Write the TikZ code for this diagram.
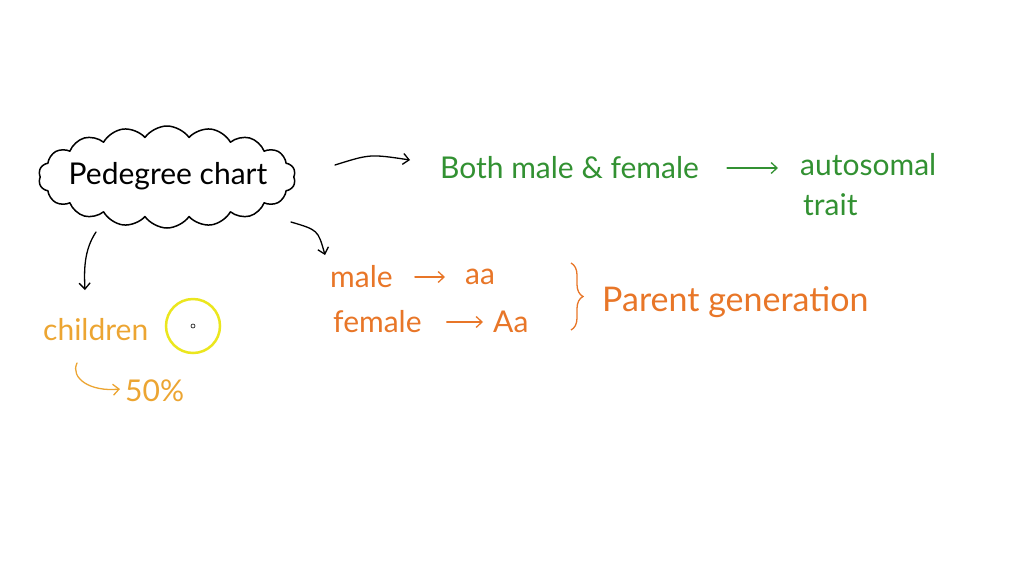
\documentclass[tikz,border=0pt]{standalone}
\usepackage{fontspec}
\setmainfont{Lato}
\usetikzlibrary{shapes.symbols,arrows.meta,decorations.pathreplacing}
\definecolor{grn}{RGB}{50,145,50}
\definecolor{org}{RGB}{232,118,40}
\definecolor{amb}{RGB}{236,165,50}
\definecolor{ylw}{RGB}{235,230,30}
\begin{document}
\begin{tikzpicture}[x=1pt,y=-1pt,
  hand/.style={font=\fontsize{30}{34}\selectfont, inner sep=0pt, anchor=west},
  arr/.style={-{Straight Barb[length=6pt,width=11pt]}, line width=1.3pt, line cap=round},
  ink/.style={line width=1.5pt, line cap=round, line join=round}]
\useasboundingbox (0,0) rectangle (1024,576);
% cloud
\node[cloud, draw, ink, cloud puffs=18, cloud puff arc=110, aspect=2.5,
      minimum width=257pt, minimum height=102pt, inner sep=0pt] (pc) at (167,177) {};
\node[font=\fontsize{30}{34}\selectfont, inner sep=0pt] (pct) at (168,176) {Pedegree chart};
% green part
\node[hand, text=grn] (both) at (440,168) {Both male \& female};
\node[hand, text=grn] (auto) at (800,165) {autosomal};
\node[hand, text=grn] (trait) at (803,205) {trait};
\draw[arr, grn, shorten <=28pt, shorten >=22pt] (both.east) -- (both.east -| auto.west);
% orange part
\node[hand, text=org] (male) at (330,277) {male};
\node[hand, text=org] (aa) at (465,277) {aa};
\node[hand, text=org] (female) at (333,322) {female};
\node[hand, text=org] (Aa) at (493,322) {Aa};
\draw[arr, org, shorten <=22pt, shorten >=20pt] (male) -- (aa);
\draw[arr, org, shorten <=25pt, shorten >=10pt] (female) -- (Aa);
\coordinate (bt) at (571,263);
\coordinate (bb) at (571,330);
\draw[org, line width=1.3pt, decorate, decoration={brace, amplitude=12pt}] (bt) -- (bb);
\node[hand, text=org, font=\fontsize{34}{38}\selectfont] (par) at (602,302) {Parent generation};
% children
\node[hand, text=amb] (ch) at (43,330) {children};
\node[hand, text=amb] (fifty) at (125,391) {50\%};
\draw[ylw, line width=2.5pt] (193,326) circle (27);
\draw[line width=0.6pt] (193,326) circle (2);
% black arrows
\coordinate (a1s) at (335,165);
\coordinate (a1e) at (410,160);
\draw[arr] (a1s) .. controls (370,154) .. (a1e);
\coordinate (a2s) at (291,222);
\coordinate (a2e) at (325,255);
\draw[arr] (a2s) .. controls (318,230) .. (a2e);
\coordinate (a3s) at (96,232);
\coordinate (a3e) at (85,290);
\draw[arr] (a3s) .. controls (84,250) and (84,270) .. (a3e);
% amber arrow
\coordinate (a4s) at (77,363);
\coordinate (a4e) at (120,389);
\draw[arr, amb] (a4s) .. controls (70,378) and (90,392) .. (a4e);
\end{tikzpicture}
\end{document}
